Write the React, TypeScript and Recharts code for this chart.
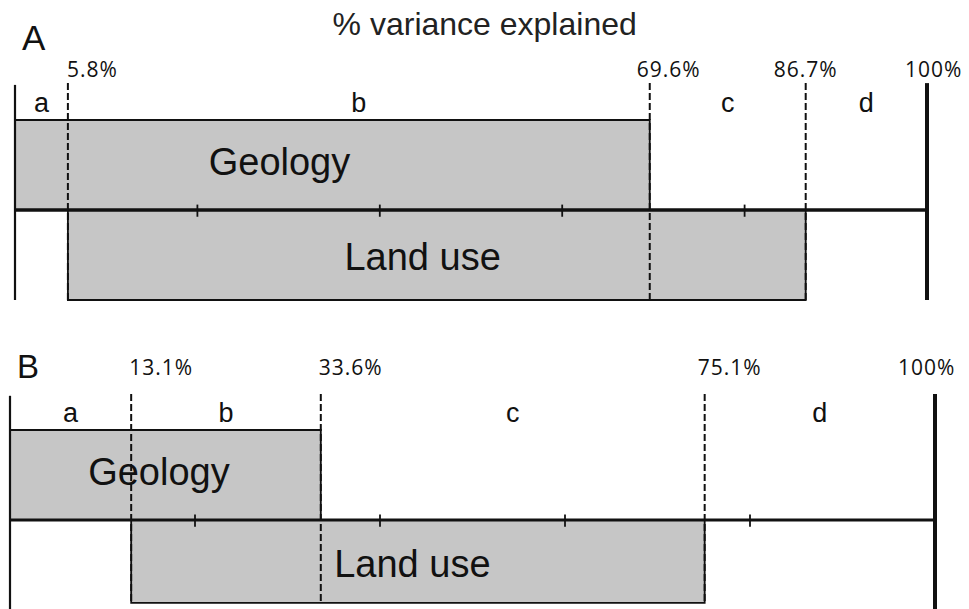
import React from 'react';
import { ScatterChart, Scatter, XAxis, YAxis, ReferenceArea, ReferenceLine } from 'recharts';

// ---------- data ----------
const figureTitle = '% variance explained';
const panelLetters = ['A', 'B'];
const predictors = ['Geology', 'Land use'];
const fractions = ['a', 'b', 'c', 'd'];
// cumulative boundaries of fractions a | b | c | d (percent of variance)
const cumulativeA = [5.8, 69.6, 86.7, 100];
const cumulativeB = [13.1, 33.6, 75.1, 100];
const cumulativeLabelsA = ['5.8%', '69.6%', '86.7%', '100%'];
const cumulativeLabelsB = ['13.1%', '33.6%', '75.1%', '100%'];
const scaleTicks = [20, 40, 60, 80];

// ---------- style ----------
const INK = '#111111';
const GRAY = '#c6c6c6';
const SANS = '"Liberation Sans", Arial, Helvetica, sans-serif';
const PCT_FONT = '"Open Sans", "Noto Sans", sans-serif';

const layoutA = {
  top: 0, height: 305, mt: 3, mb: 5, left: 15, right: 42,
  yDomain: [-1, 2.3], luBottom: -1, dashBottom: -1, lineTop: 1.41,
  pctY: 1.48, letterY: 1.09, panelY: 1.78, nameY: [0.39, -0.67], nameX: [29, 44.7],
  pctDx: [-1, -13, -32, -22], axisWidth: 3.4, panelFont: 35,
  titleX: 51.5, titleY: 1.944,
};
const layoutB = {
  top: 310, height: 300, mt: 3, mb: 0, left: 10, right: 34,
  yDomain: [-1, 2.3], luBottom: -0.92, dashBottom: -0.92, lineTop: 1.4,
  pctY: 1.61, letterY: 1.09, panelY: 1.58, nameY: [0.39, -0.63], nameX: [16.1, 43.5],
  pctDx: [-2, -2, -7, -37], axisWidth: 2.8, panelFont: 33,
  titleX: null as number | null, titleY: 0,
};

const textShape = (style: any) => (p: any) => {
  const d = p.payload || p;
  return (
    <text x={p.cx + (d.dx || 0)} y={p.cy} fill={INK} {...style}>
      {d.text}
    </text>
  );
};

function Panel({ cum, labels, letter, L, title }: any) {
  const bounds = [0, ...cum];
  const letterPts = fractions.map((t, i) => ({ x: (bounds[i] + bounds[i + 1]) / 2, y: L.letterY, text: t }));
  const pctPts = labels.map((t: string, i: number) => ({ x: cum[i], y: L.pctY, text: t, dx: L.pctDx[i] }));
  const namePts = predictors.map((t, i) => ({ x: L.nameX[i], y: L.nameY[i], text: t }));
  const panelPt = [{ x: 0, y: L.panelY, text: letter, dx: 7 }];
  const titlePt = title ? [{ x: L.titleX, y: L.titleY, text: title }] : [];
  const yBottom = L.yDomain[0];
  return (
    <div style={{ position: 'absolute', left: 0, top: L.top }}>
      <ScatterChart
        width={969}
        height={L.height}
        margin={{ top: L.mt, right: L.right, bottom: L.mb, left: L.left }}
        style={{ overflow: 'visible' }}
      >
        <XAxis type="number" dataKey="x" domain={[0, 100]} hide />
        <YAxis type="number" dataKey="y" domain={L.yDomain} hide />
        {/* Geology: fractions a + b */}
        <ReferenceArea x1={0} x2={cum[1]} y1={0} y2={1} fill={GRAY} fillOpacity={1} stroke={INK} strokeWidth={1.8} ifOverflow="visible" />
        {/* Land use: fractions b + c */}
        <ReferenceArea x1={cum[0]} x2={cum[2]} y1={L.luBottom} y2={0} fill={GRAY} fillOpacity={1} stroke={INK} strokeWidth={1.8} ifOverflow="visible" />
        {/* left boundary (0%) */}
        <ReferenceLine segment={[{ x: 0, y: L.lineTop - 0.02 }, { x: 0, y: yBottom }]} stroke={INK} strokeWidth={2.2} ifOverflow="visible" />
        {/* dashed fraction boundaries */}
        {cum.slice(0, 3).map((v: number, i: number) => (
          <ReferenceLine key={'d' + i} segment={[{ x: v, y: L.lineTop }, { x: v, y: L.dashBottom }]} stroke={INK} strokeWidth={2} strokeDasharray="7 3" ifOverflow="visible" />
        ))}
        {/* main scale line */}
        <ReferenceLine segment={[{ x: 0, y: 0 }, { x: 100, y: 0 }]} stroke={INK} strokeWidth={L.axisWidth} ifOverflow="visible" />
        {scaleTicks.map((t) => (
          <ReferenceLine key={'t' + t} segment={[{ x: t, y: -0.075 }, { x: t, y: 0.06 }]} stroke={INK} strokeWidth={1.8} ifOverflow="visible" />
        ))}
        {/* 100% boundary */}
        <ReferenceLine segment={[{ x: 100, y: L.lineTop }, { x: 100, y: yBottom }]} stroke={INK} strokeWidth={4} ifOverflow="visible" />
        <Scatter data={letterPts} isAnimationActive={false} shape={textShape({ fontFamily: SANS, fontSize: 27, textAnchor: 'middle' })} />
        <Scatter data={pctPts} isAnimationActive={false} shape={textShape({ fontFamily: PCT_FONT, fontSize: 21, letterSpacing: 1, textAnchor: 'start' })} />
        <Scatter data={namePts} isAnimationActive={false} shape={textShape({ fontFamily: SANS, fontSize: 38, textAnchor: 'middle' })} />
        <Scatter data={panelPt} isAnimationActive={false} shape={textShape({ fontFamily: SANS, fontSize: L.panelFont, textAnchor: 'start' })} />
        {title ? (
          <Scatter data={titlePt} isAnimationActive={false} shape={textShape({ fontFamily: SANS, fontSize: 32, textAnchor: 'middle', fill: '#222' })} />
        ) : null}
      </ScatterChart>
    </div>
  );
}

export default function App() {
  return (
    <div style={{ position: 'absolute', left: 0, top: 0, width: 969, height: 609, background: '#ffffff', overflow: 'hidden' }}>
      <Panel cum={cumulativeA} labels={cumulativeLabelsA} letter={panelLetters[0]} L={layoutA} title={figureTitle} />
      <Panel cum={cumulativeB} labels={cumulativeLabelsB} letter={panelLetters[1]} L={layoutB} title={null} />
    </div>
  );
}
